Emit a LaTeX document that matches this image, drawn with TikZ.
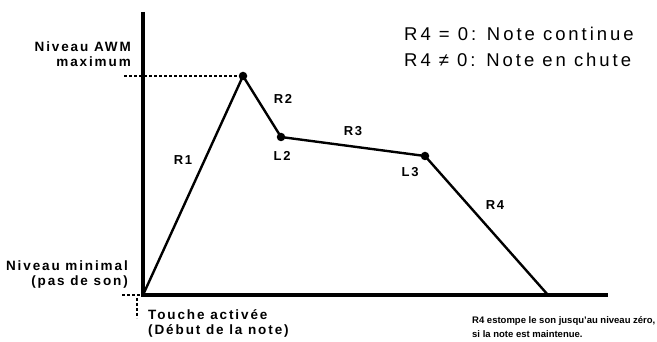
\documentclass[tikz,border=0pt]{standalone}
\usepackage{fontspec}
\setmainfont{Liberation Sans}
\newfontfamily\widefont[LetterSpace=14]{Liberation Sans}
\newfontfamily\legfont[LetterSpace=16]{Liberation Sans}
\usetikzlibrary{positioning,calc}

\begin{document}
\begin{tikzpicture}[x=1pt,y=-1pt,font=\bfseries\fontsize{9.5}{14}\selectfont,
  axis/.style={line width=3.6pt},
  env/.style={line width=2.4pt, line join=round},
  guide/.style={line width=1.2pt, dash pattern=on 3pt off 2pt},
  dot/.style={circle, fill=black, inner sep=0pt, minimum size=8.5pt},
  lbl/.style={inner sep=1pt, font=\widefont\bfseries\fontsize{13}{14}\selectfont},
  side/.style={align=right, inner sep=0pt, font=\widefont\bfseries\fontsize{13.5}{15}\selectfont},
  note/.style={align=left, inner sep=0pt}]
\useasboundingbox (0,0) rectangle (657,342);
% envelope points
\coordinate (o) at (143,295);
\coordinate (top) at (143,12);
\coordinate (end) at (608,295);
\node[dot] (pk) at (243,76) {};
\node[dot] (l2) at (281,137) {};
\node[dot] (l3) at (425,156) {};
\coordinate (r4) at (548,295);
% axes
\draw[axis] (top) -- (o) -- (end);
% dashed guides
\coordinate (gmax) at (124,76);
\coordinate (gmin) at (122,295);
\coordinate (gsub) at (137,298);
\coordinate (gbot) at (137,318);
\draw[guide] (gmax) -- (pk.center);
\draw[guide] (gmin) -- (o);
\draw[guide] (gsub) -- (gbot);
% envelope
\draw[env] (o) -- (pk.center) -- (l2.center) -- (l3.center) -- (r4);
% rate and level labels
\node[lbl] (nr1) at (183,160) {R1};
\node[lbl] (nr2) at (283,99) {R2};
\node[lbl] (nl2) at (282,156) {L2};
\node[lbl] (nr3) at (353,131) {R3};
\node[lbl] (nl3) at (410,172) {L3};
\node[lbl] (nr4) at (495,205) {R4};
% axis texts
\node[side, anchor=east] (nmax) at (131,54) {Niveau AWM\\maximum};
\node[side, anchor=east] (nmin) at (128,275) {Niveau minimal\\(pas de son)};
\node[side, align=left, anchor=west] (key) at (148,323) {Touche activée\\(Début de la note)};
\node[note, anchor=west] (fade) at (472,327) {R4 estompe le son jusqu'au niveau zéro,\\si la note est maintenue.};
% legend
\node[note, anchor=west, font=\legfont\fontsize{18.5}{26}\selectfont] (leg) at (404,47)
  {R4 = 0: Note continue\\R4 ≠ 0: Note en chute};
\end{tikzpicture}
\end{document}
